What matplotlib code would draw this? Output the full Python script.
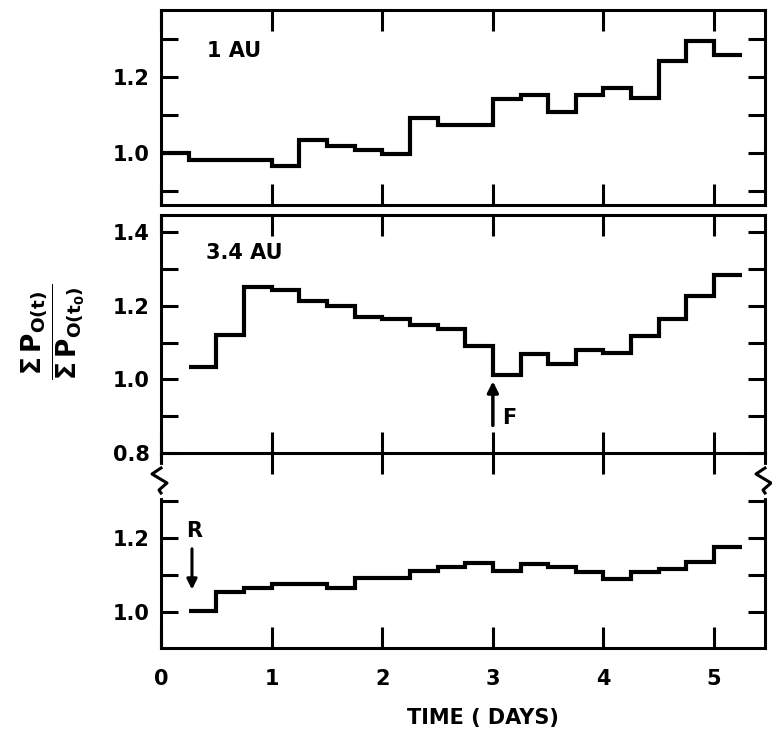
import numpy as np
import matplotlib
matplotlib.use("Agg")
import matplotlib.pyplot as plt
from matplotlib.lines import Line2D

# ---- data ----
# step edges (days), each bin 0.25 day wide
t_1au = [0.0, 0.25, 0.5, 0.75, 1.0, 1.25, 1.5, 1.75, 2.0, 2.25, 2.5, 2.75,
         3.0, 3.25, 3.5, 3.75, 4.0, 4.25, 4.5, 4.75, 5.0, 5.25]
v_1au = [1.000, 0.980, 0.980, 0.980, 0.965, 1.034, 1.018, 1.007, 0.996, 1.091,
         1.075, 1.075, 1.143, 1.154, 1.109, 1.152, 1.172, 1.145, 1.243, 1.297, 1.259]

t_34au = [0.25, 0.5, 0.75, 1.0, 1.25, 1.5, 1.75, 2.0, 2.25, 2.5, 2.75,
          3.0, 3.25, 3.5, 3.75, 4.0, 4.25, 4.5, 4.75, 5.0, 5.25]
v_34au = [1.035, 1.122, 1.252, 1.243, 1.213, 1.200, 1.170, 1.164, 1.147, 1.138,
          1.091, 1.013, 1.070, 1.041, 1.081, 1.073, 1.117, 1.165, 1.226, 1.285]

t_ref = [0.25, 0.5, 0.75, 1.0, 1.25, 1.5, 1.75, 2.0, 2.25, 2.5, 2.75,
         3.0, 3.25, 3.5, 3.75, 4.0, 4.25, 4.5, 4.75, 5.0, 5.25]
v_ref = [1.002, 1.054, 1.064, 1.075, 1.075, 1.065, 1.090, 1.090, 1.109, 1.120,
         1.131, 1.111, 1.129, 1.120, 1.108, 1.088, 1.108, 1.115, 1.134, 1.175]

x_ticks = [0, 1, 2, 3, 4, 5]
x_ticklabels = ["0", "1", "2", "3", "4", "5"]

FONT = "DejaVu Sans"
plt.rcParams['font.family'] = [FONT]
plt.rcParams['font.weight'] = 'bold'

W, H = 772, 735
fig = plt.figure(figsize=(W / 100, H / 100), dpi=100)

def fx(px):
    return px / W

def fy(py):
    return 1 - py / H

L, R = 161, 765
ax_top = fig.add_axes([fx(L), fy(205), fx(R) - fx(L), fy(10) - fy(205)])
ax_mid = fig.add_axes([fx(L), fy(453), fx(R) - fx(L), fy(215) - fy(453)])
ax_bot = fig.add_axes([fx(L), fy(648), fx(R) - fx(L), fy(453) - fy(648)])
ax_bot.set_facecolor('none')
ax_mid.set_zorder(2)
ax_mid.set_facecolor('none')

SP_LW = 2.2
DATA_LW = 3.0
TICK_LEN = 12
XTICK_LEN = 15
LBL_FS = 15

def ylabels(ticks, shown):
    return [("%.1f" % t if any(abs(t - s) < 1e-6 for s in shown) else "") for t in ticks]

for ax in (ax_top, ax_mid, ax_bot):
    ax.set_xlim(0, 5.46)
    for s in ax.spines.values():
        s.set_linewidth(SP_LW)
    ax.tick_params(axis='y', which='both', direction='in', left=True, right=True,
                   length=TICK_LEN, width=SP_LW, labelsize=LBL_FS, pad=8)
    ax.set_xticks(x_ticks)

# top panel
ax_top.set_ylim(0.862, 1.378)
yt = [0.9, 1.0, 1.1, 1.2, 1.3]
ax_top.set_yticks(yt, ylabels(yt, [1.0, 1.2]))
ax_top.tick_params(axis='x', direction='in', top=True, bottom=True, length=XTICK_LEN,
                   width=SP_LW, labelbottom=False)
ax_top.stairs(v_1au, t_1au, baseline=None, color='black', lw=DATA_LW)
ax_top.text(0.42, 1.27, "1 AU", fontsize=LBL_FS, fontweight='bold', va='center')

# middle panel
ax_mid.set_ylim(0.80, 1.447)
yt = [0.8, 0.9, 1.0, 1.1, 1.2, 1.3, 1.4]
ax_mid.set_yticks(yt, ylabels(yt, [0.8, 1.0, 1.2, 1.4]))
ax_mid.tick_params(axis='x', direction='in', top=True, bottom=True,
                   length=XTICK_LEN, width=SP_LW, labelbottom=False)
ax_mid.stairs(v_34au, t_34au, baseline=None, color='black', lw=DATA_LW)
ax_mid.text(0.41, 1.345, "3.4 AU", fontsize=LBL_FS, fontweight='bold', va='center')
ax_mid.annotate("", xy=(3.0, 0.995), xytext=(3.0, 0.875),
                arrowprops=dict(arrowstyle='-|>', lw=2.5, color='black',
                                mutation_scale=16, shrinkA=0, shrinkB=0))
ax_mid.text(3.08, 0.895, "F", fontsize=LBL_FS, fontweight='bold', va='center')

# bottom panel
ax_bot.set_ylim(0.902, 1.429)
yt = [1.0, 1.1, 1.2, 1.3]
ax_bot.set_yticks(yt, ylabels(yt, [1.0, 1.2]))
ax_bot.spines['top'].set_visible(False)
ax_bot.tick_params(axis='x', direction='in', top=True, bottom=True, length=XTICK_LEN,
                   width=SP_LW, labelsize=LBL_FS, pad=15)
ax_bot.set_xticks(x_ticks, x_ticklabels)
ax_bot.stairs(v_ref, t_ref, baseline=None, color='black', lw=DATA_LW)
ax_bot.annotate("", xy=(0.28, 1.06), xytext=(0.28, 1.17),
                arrowprops=dict(arrowstyle='-|>', lw=2.2, color='black',
                                mutation_scale=15, shrinkA=0, shrinkB=0))
ax_bot.text(0.30, 1.218, "R", fontsize=LBL_FS, fontweight='bold', ha='center', va='center')

# break zigzags on the left and right spines
def zig(xc):
    y0 = 468
    pts_dx = [0, -9, 6, -2, 0]
    pts_dy = [0, 6, 15, 22, 25]
    xs = [fx(xc + d) for d in pts_dx]
    ys = [fy(y0 + d) for d in pts_dy]
    fig.add_artist(Line2D([fx(xc), fx(xc)], [fy(y0 - 0.5), fy(y0 + 25.5)],
                          transform=fig.transFigure, color='white', lw=SP_LW + 3,
                          zorder=10))
    fig.add_artist(Line2D(xs, ys, transform=fig.transFigure, color='black',
                          lw=SP_LW, zorder=11))

zig(L)
zig(R)

# axis labels
fig.text(fx(483), fy(718), "TIME ( DAYS)", fontsize=LBL_FS, fontweight='bold',
         ha='center', va='center')
fig.text(fx(53), fy(332),
         r'$\dfrac{\mathbf{\Sigma\,P_{O(t)}}}{\mathbf{\Sigma\,P_{O(t_0)}}}$',
         fontsize=19, rotation=90, ha='center', va='center')

fig.savefig("out.png", dpi=100)
